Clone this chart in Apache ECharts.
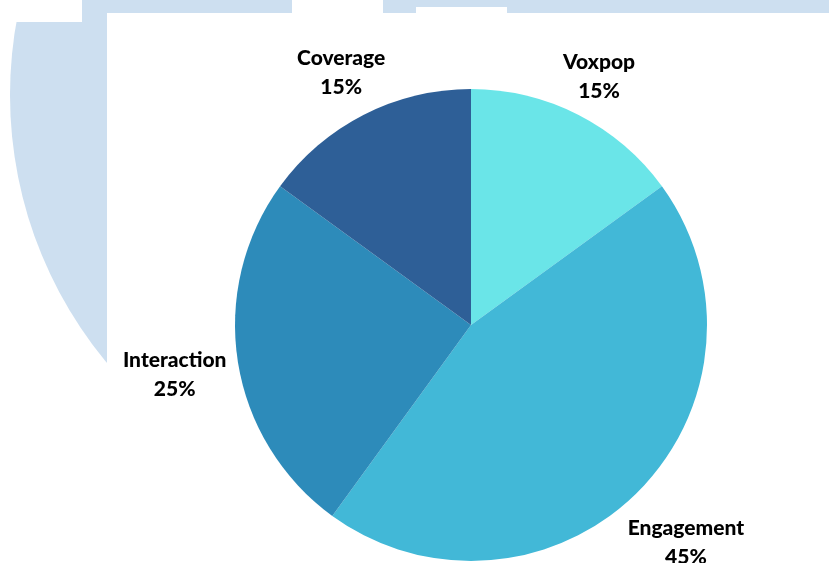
<!DOCTYPE html>
<html>
<head>
<meta charset="utf-8">
<script src="https://cdn.jsdelivr.net/npm/echarts@6/dist/echarts.min.js"></script>
<style>
html,body{margin:0;padding:0;background:#fff;}
#chart{width:829px;height:563px;}
</style>
</head>
<body>
<div id="chart"></div>
<script>
const categories = ['Voxpop', 'Engagement', 'Interaction', 'Coverage'];
const values = [15, 45, 25, 15];
const colors = ['#6ae5e8', '#42b8d7', '#2d8bba', '#2e5f97'];
const labelLengths = [46, 68, 64, 50];

const chart = echarts.init(document.getElementById('chart'), null, {renderer: 'canvas'});
const bg = '#cddff0';
const textStyle = {fontFamily: 'Lato', fontWeight: 900, fontSize: 21, color: '#000', align: 'center', lineHeight: 29};
chart.setOption({
  backgroundColor: '#ffffff',
  animation: false,
  graphic: [
    {type: 'circle', z: 0, shape: {cx: 429, cy: 95, r: 419}, style: {fill: bg}, silent: true},
    {type: 'rect', z: 1, shape: {x: 0, y: 0, width: 82, height: 22}, style: {fill: '#fff'}, silent: true},
    {type: 'rect', z: 1, shape: {x: 292, y: 0, width: 91, height: 13}, style: {fill: '#fff'}, silent: true},
    {type: 'rect', z: 1, shape: {x: 416, y: 7, width: 91, height: 6}, style: {fill: '#fff'}, silent: true},
    {type: 'rect', z: 1, shape: {x: 107, y: 13, width: 722, height: 550}, style: {fill: '#fff'}, silent: true}
  ],
  series: [{
    type: 'pie',
    center: [471, 325],
    radius: 236,
    startAngle: 90,
    clockwise: true,
    avoidLabelOverlap: false,
    z: 5,
    itemStyle: {borderWidth: 0},
    label: {
      show: true,
      position: 'outside',
      distanceToLabelLine: 0,
      formatter: '{n|{b}}\n{p|{c}%}',
      rich: {n: textStyle, p: textStyle}
    },
    labelLine: {show: false, length2: 0},
    labelLayout: {align: 'center', verticalAlign: 'middle', dy: 3},
    data: categories.map((c, i) => ({
      name: c,
      value: values[i],
      itemStyle: {color: colors[i]},
      labelLine: {show: false, length: labelLengths[i], length2: 0}
    }))
  }]
});
</script>
</body>
</html>
